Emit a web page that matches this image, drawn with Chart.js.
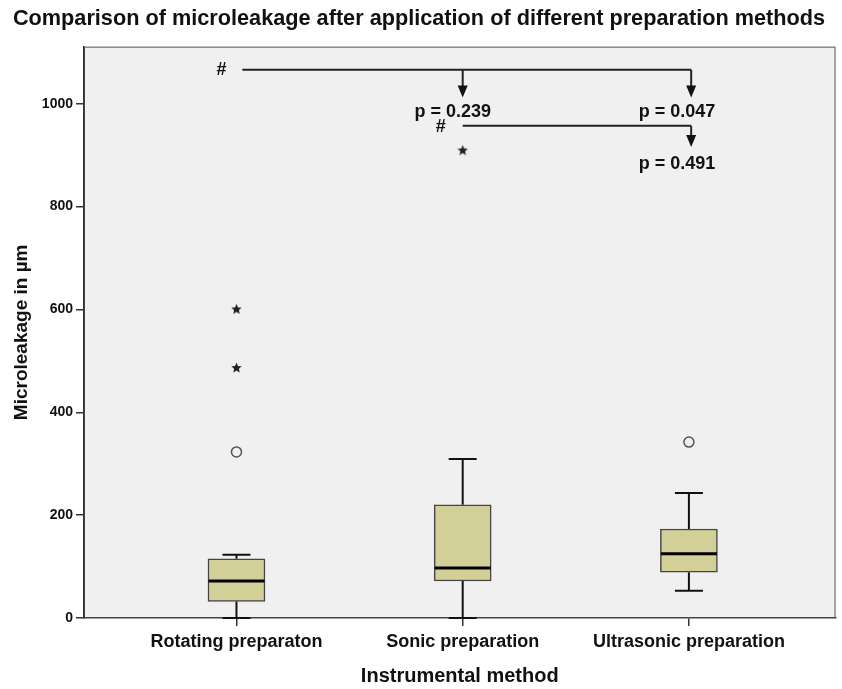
<!DOCTYPE html>
<html>
<head>
<meta charset="utf-8">
<script src="https://cdn.jsdelivr.net/npm/chart.js@4.4.1/dist/chart.umd.min.js"></script>
<style>
html, body { margin: 0; padding: 0; background: #fff; }
</style>
</head>
<body>
<canvas id="boxChart" width="842" height="689"></canvas>
<script>
// values (µm)
const categories = ['Rotating preparaton', 'Sonic preparation', 'Ultrasonic preparation'];
const whiskerLow = [0, 0, 53];
const q1 = [32, 72, 89];
const median = [72, 97, 125];
const q3 = [115, 220, 173];
const whiskerHigh = [123, 309, 243];
const circleOutliers = [[323], [], [342]];
const starOutliers = [[487, 601], [910], []];
const yTicks = [0, 200, 400, 600, 800, 1000];
const pLabels = ['p = 0.239', 'p = 0.047', 'p = 0.491'];

const FONT = "'Liberation Sans', Arial, sans-serif";

// filled five point star like the SPSS extreme marker
function makeStar(size, color) {
    const c = document.createElement('canvas');
    c.width = size;
    c.height = size;
    const g = c.getContext('2d');
    const r = size / 2, ri = r * 0.45;
    g.beginPath();
    for (let k = 0; k < 10; k++) {
        const ang = -Math.PI / 2 + k * Math.PI / 5;
        const rr = k % 2 ? ri : r;
        g.lineTo(r + rr * Math.cos(ang), r + 0.5 + rr * Math.sin(ang));
    }
    g.closePath();
    g.fillStyle = color;
    g.fill();
    return c;
}
const starImg = makeStar(11, '#222');

const circlePoints = [];
const starPoints = [];
categories.forEach((c, i) => {
    circleOutliers[i].forEach(v => circlePoints.push({ x: i + 1, y: v }));
    starOutliers[i].forEach(v => starPoints.push({ x: i + 1, y: v }));
});

const boxExtras = {
    id: 'boxExtras',
    beforeDraw(chart) {
        const { ctx, chartArea: a } = chart;
        ctx.save();
        ctx.fillStyle = '#f0f0f0';
        ctx.fillRect(a.left, a.top, a.right - a.left, a.bottom - a.top);
        ctx.strokeStyle = '#555';
        ctx.lineWidth = 1;
        ctx.strokeRect(a.left + 0.5, a.top + 0.5, a.right - a.left - 1, a.bottom - a.top - 1);
        ctx.restore();
    },
    beforeDatasetsDraw(chart) {
        // whiskers and caps
        const { ctx, scales: { x, y } } = chart;
        ctx.save();
        ctx.strokeStyle = '#111';
        ctx.lineWidth = 2;
        categories.forEach((c, i) => {
            const px = x.getPixelForValue(i + 1);
            [[q3[i], whiskerHigh[i]], [q1[i], whiskerLow[i]]].forEach(([from, to]) => {
                const pt = y.getPixelForValue(to);
                ctx.beginPath();
                ctx.moveTo(px, y.getPixelForValue(from));
                ctx.lineTo(px, pt);
                ctx.moveTo(px - 14, pt);
                ctx.lineTo(px + 14, pt);
                ctx.stroke();
            });
        });
        ctx.restore();
    },
    afterDatasetsDraw(chart) {
        // medians
        const { ctx, scales: { x, y } } = chart;
        ctx.save();
        ctx.strokeStyle = '#000';
        ctx.lineWidth = 3;
        median.forEach((m, i) => {
            const px = x.getPixelForValue(i + 1);
            const py = y.getPixelForValue(m);
            ctx.beginPath();
            ctx.moveTo(px - 28, py);
            ctx.lineTo(px + 28, py);
            ctx.stroke();
        });
        ctx.restore();
    },
    afterDraw(chart) {
        // significance brackets
        const { ctx, scales: { x, y } } = chart;
        const X = v => x.getPixelForValue(v);
        const Y = v => y.getPixelForValue(v);
        ctx.save();
        ctx.strokeStyle = '#222';
        ctx.fillStyle = '#111';
        ctx.lineWidth = 2;
        const arrow = (xv, fromV, toV) => {
            const px = X(xv), tip = Y(toV);
            ctx.beginPath();
            ctx.moveTo(px, Y(fromV));
            ctx.lineTo(px, tip - 10);
            ctx.stroke();
            ctx.beginPath();
            ctx.moveTo(px - 5, tip - 12);
            ctx.lineTo(px + 5, tip - 12);
            ctx.lineTo(px, tip);
            ctx.closePath();
            ctx.fill();
        };
        const hline = (a, b, v) => {
            ctx.beginPath();
            ctx.moveTo(X(a), Y(v));
            ctx.lineTo(X(b), Y(v));
            ctx.stroke();
        };
        hline(1.026, 3.01, 1066);
        arrow(2, 1066, 1012);
        arrow(3.01, 1066, 1012);
        hline(2, 3.01, 957);
        arrow(3.01, 957, 916);

        ctx.font = 'bold 18px ' + FONT;
        ctx.textAlign = 'center';
        ctx.textBaseline = 'middle';
        ctx.fillText('#', X(0.934), Y(1066));
        ctx.fillText('#', X(1.903), Y(955));
        ctx.fillText(pLabels[0], X(1.956), Y(984));
        ctx.fillText(pLabels[1], X(2.947), Y(984));
        ctx.fillText(pLabels[2], X(2.947), Y(883));
        ctx.restore();
    }
};

const ctx = document.getElementById('boxChart').getContext('2d');
const chart = new Chart(ctx, {
    type: 'bar',
    data: {
        datasets: [{
            label: 'IQR',
            data: categories.map((c, i) => ({ x: i + 1, y: [q1[i], q3[i]] })),
            backgroundColor: '#d3cf98',
            borderColor: '#444',
            borderWidth: 1.5,
            borderSkipped: false,
            barThickness: 57
        }, {
            type: 'scatter',
            label: 'Outliers',
            data: circlePoints,
            pointStyle: 'circle',
            radius: 5,
            backgroundColor: '#f0f0f0',
            borderColor: '#555',
            borderWidth: 1.5
        }, {
            type: 'scatter',
            label: 'Extremes',
            data: starPoints,
            pointStyle: starImg
        }]
    },
    options: {
        responsive: false,
        animation: false,
        layout: { padding: { left: 0, right: 4, top: 0, bottom: 0 } },
        plugins: {
            legend: { display: false },
            tooltip: { enabled: false },
            title: {
                display: true,
                text: 'Comparison of microleakage after application of different preparation methods',
                color: '#111',
                font: { family: FONT, size: 21.7, weight: 'bold' },
                padding: { top: 6, bottom: 14.6 }
            }
        },
        scales: {
            x: {
                type: 'linear',
                offset: false,
                min: 0.326,
                max: 3.648,
                afterBuildTicks: axis => { axis.ticks = categories.map((c, i) => ({ value: i + 1 })); },
                afterFit: scale => { scale.height = 71; },
                grid: { offset: false, drawOnChartArea: false, tickLength: 8, color: '#333', lineWidth: 1.5 },
                border: { color: '#444', width: 1.5 },
                ticks: {
                    autoSkip: false,
                    maxRotation: 0,
                    padding: 5,
                    color: '#111',
                    font: { family: FONT, size: 18, weight: 'bold' },
                    callback: v => categories[v - 1]
                },
                title: {
                    display: true,
                    text: 'Instrumental method',
                    color: '#111',
                    font: { family: FONT, size: 20, weight: 'bold' },
                    padding: { top: 0, bottom: 1 }
                }
            },
            y: {
                min: 0,
                max: 1111,
                afterBuildTicks: axis => { axis.ticks = yTicks.map(v => ({ value: v })); },
                afterFit: scale => { scale.width = 84; },
                grid: { drawOnChartArea: false, tickLength: 8, color: '#333', lineWidth: 1.5 },
                border: { color: '#333', width: 1.5 },
                ticks: {
                    padding: 3,
                    color: '#111',
                    font: { family: FONT, size: 14, weight: 'bold' },
                    callback: v => String(v)
                },
                title: {
                    display: true,
                    text: 'Microleakage in µm',
                    color: '#111',
                    font: { family: FONT, size: 19, weight: 'bold' },
                    padding: { top: 10.6, bottom: 0 }
                }
            }
        }
    },
    plugins: [boxExtras]
});
</script>
</body>
</html>
